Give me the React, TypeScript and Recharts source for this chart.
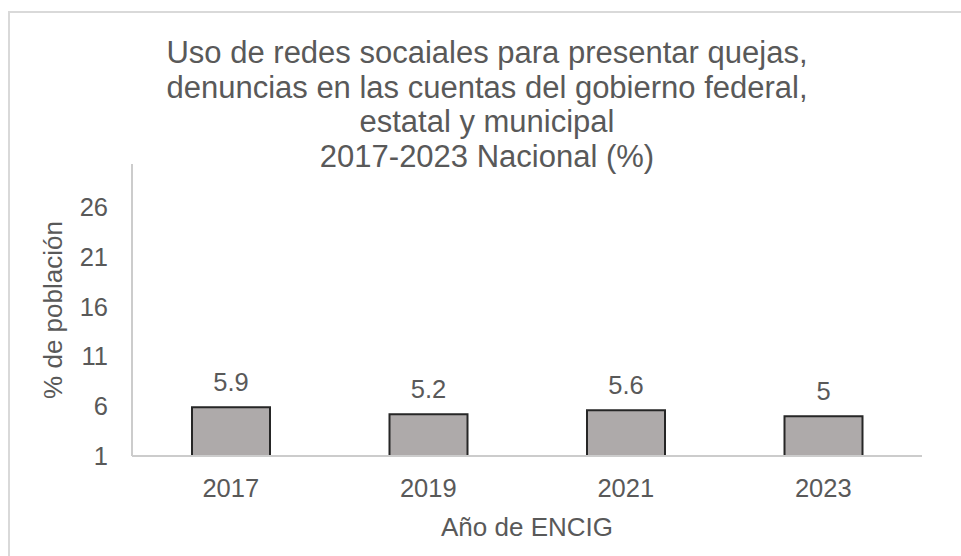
import React from 'react';
import { BarChart, Bar, XAxis, YAxis, LabelList, ReferenceLine } from 'recharts';

// Values
const years = ['2017', '2019', '2021', '2023'];
const shares = [5.9, 5.2, 5.6, 5];
const yTicks = [1, 6, 11, 16, 21, 26];
const titleLines = [
  'Uso de redes socaiales para presentar quejas,',
  'denuncias en las cuentas del gobierno federal,',
  'estatal y municipal',
  '2017-2023 Nacional (%)'
];

const data = years.map((year, i) => ({ year, value: shares[i] }));

const FONT = '"Liberation Sans", Arial, sans-serif';
const TEXT = '#595959';

const App: React.FC = () => {
  return (
    <div style={{ position: 'absolute', left: 0, top: 0, width: 961, height: 556, background: '#fff', overflow: 'hidden' }}>
      <div
        style={{
          position: 'absolute',
          left: 8,
          top: 11,
          width: 960,
          height: 560,
          borderLeft: '2px solid #D9D9D9',
          borderTop: '2px solid #D9D9D9'
        }}
      />
      <div style={{ position: 'absolute', left: 0, top: 0 }}>
        <BarChart
          width={961}
          height={556}
          data={data}
          margin={{ top: 164, right: 39, left: 0, bottom: 0 }}
          barSize={78}
        >
          <XAxis
            dataKey="year"
            height={100}
            tickLine={false}
            tickSize={0}
            tickMargin={23}
            axisLine={{ stroke: '#CCCCCC', strokeWidth: 2 }}
            tick={{ fill: TEXT, fontSize: 25.5, fontFamily: FONT }}
          />
          <YAxis
            width={132}
            domain={[1, 30.3]}
            ticks={yTicks}
            allowDataOverflow
            tickLine={false}
            tickSize={0}
            tickMargin={24}
            axisLine={{ stroke: '#CCCCCC', strokeWidth: 2 }}
            tick={{ fill: TEXT, fontSize: 25.5, fontFamily: FONT }}
          />
          <Bar dataKey="value" fill="#AEAAAA" stroke="#262626" strokeWidth={2} isAnimationActive={false}>
            <LabelList
              dataKey="value"
              position="top"
              offset={16}
              style={{ fill: TEXT, fontSize: 25.5, fontFamily: FONT }}
            />
          </Bar>
          <ReferenceLine y={1} stroke="#CCCCCC" strokeWidth={2} />
        </BarChart>
      </div>
      <svg
        width={961}
        height={556}
        style={{ position: 'absolute', left: 0, top: 0, pointerEvents: 'none' }}
      >
        {titleLines.map((line, i) => (
          <text
            key={i}
            x={487}
            y={63 + i * 34.7}
            textAnchor="middle"
            fill={TEXT}
            fontSize={31}
            fontFamily={FONT}
          >
            {line}
          </text>
        ))}
        <text x={527} y={536} textAnchor="middle" fill={TEXT} fontSize={26} fontFamily={FONT}>
          Año de ENCIG
        </text>
        <text
          x={62}
          y={310}
          textAnchor="middle"
          fill={TEXT}
          fontSize={26}
          fontFamily={FONT}
          transform="rotate(-90, 62, 310)"
        >
          % de población
        </text>
      </svg>
    </div>
  );
};

export default App;
